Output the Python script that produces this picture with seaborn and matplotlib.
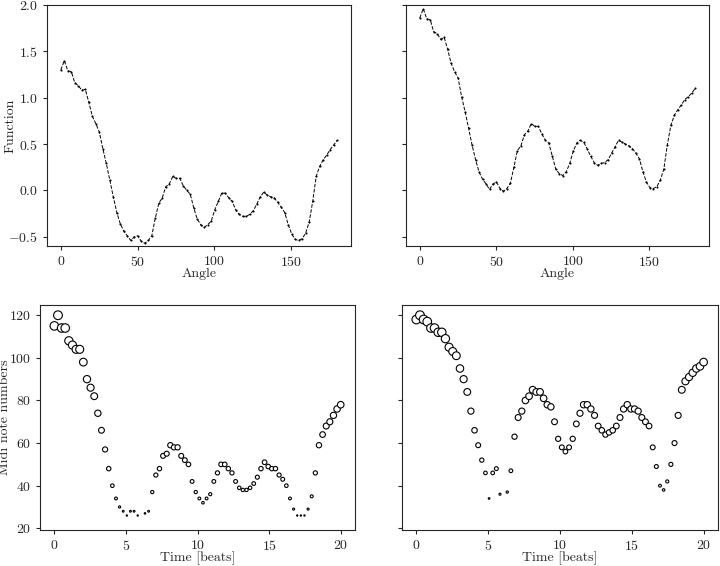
import numpy as np
import pandas as pd
import matplotlib
matplotlib.use("Agg")
import matplotlib.pyplot as plt
import seaborn as sns

# sample positions (80 samples)
angle = np.linspace(0, 180, 80)
time_beats = np.linspace(0, 20, 80)

# function values
func_left = [1.30, 1.40, 1.29, 1.28, 1.16, 1.13, 1.08, 1.09, 0.95, 0.80,
             0.72, 0.63, 0.45, 0.29, 0.11, -0.07, -0.24, -0.36, -0.44, -0.49,
             -0.54, -0.50, -0.49, -0.55, -0.57, -0.54, -0.49, -0.30, -0.14, -0.08,
             0.04, 0.07, 0.15, 0.13, 0.13, 0.05, 0.00, -0.04, -0.19, -0.31,
             -0.37, -0.40, -0.37, -0.33, -0.21, -0.12, -0.03, -0.03, -0.08, -0.12,
             -0.21, -0.26, -0.28, -0.28, -0.26, -0.22, -0.15, -0.07, -0.02, -0.05,
             -0.07, -0.08, -0.13, -0.18, -0.24, -0.37, -0.47, -0.53, -0.54, -0.52,
             -0.46, -0.34, -0.12, 0.15, 0.26, 0.33, 0.38, 0.44, 0.49, 0.54]

func_right = [1.86, 1.96, 1.85, 1.84, 1.71, 1.69, 1.63, 1.65, 1.52, 1.37,
              1.28, 1.21, 1.01, 0.85, 0.67, 0.49, 0.33, 0.20, 0.12, 0.07,
              0.01, 0.07, 0.09, 0.02, -0.01, 0.02, 0.08, 0.25, 0.43, 0.48,
              0.60, 0.64, 0.72, 0.69, 0.69, 0.61, 0.54, 0.51, 0.37, 0.23,
              0.18, 0.16, 0.20, 0.29, 0.42, 0.51, 0.54, 0.52, 0.45, 0.37,
              0.30, 0.27, 0.29, 0.30, 0.33, 0.40, 0.47, 0.54, 0.52, 0.50,
              0.48, 0.45, 0.40, 0.34, 0.20, 0.09, 0.03, 0.02, 0.04, 0.11,
              0.23, 0.49, 0.70, 0.81, 0.87, 0.92, 0.98, 1.01, 1.05, 1.10]

# midi note numbers
midi_left = [115, 120, 114, 114, 108, 106, 104, 104, 98, 90,
             86, 82, 74, 66, 57, 48, 40, 34, 30, 28,
             26, 28, 28, 26, 24, 27, 28, 37, 45, 48,
             54, 55, 59, 58, 58, 54, 52, 50, 42, 37,
             34, 32, 34, 36, 42, 46, 50, 50, 48, 46,
             42, 39, 38, 38, 39, 41, 44, 48, 51, 49,
             48, 48, 45, 43, 40, 34, 29, 26, 26, 26,
             29, 35, 46, 59, 64, 68, 70, 73, 76, 78]

midi_right = [118, 120, 118, 117, 114, 114, 112, 112, 109, 105,
              103, 101, 95, 90, 84, 75, 66, 59, 52, 46,
              34, 46, 48, 36, 31, 37, 47, 63, 72, 75,
              80, 82, 85, 84, 84, 81, 78, 77, 70, 62,
              58, 56, 58, 62, 69, 74, 78, 78, 76, 73,
              68, 66, 64, 65, 66, 68, 72, 76, 78, 76,
              76, 75, 72, 70, 68, 58, 49, 40, 38, 42,
              50, 60, 73, 85, 89, 91, 93, 95, 96, 98]

sns.set_style("ticks")
plt.rcParams["font.family"] = "serif"
plt.rcParams["font.serif"] = ["cmr10"]
plt.rcParams["mathtext.fontset"] = "cm"
plt.rcParams["axes.formatter.use_mathtext"] = True
plt.rcParams["font.size"] = 10

fig, axes = plt.subplots(2, 2, figsize=(7.2, 5.66), dpi=100)
(ax1, ax2), (ax3, ax4) = axes

for ax, f in [(ax1, func_left), (ax2, func_right)]:
    d = pd.DataFrame({"Angle": angle, "Function": f})
    sns.lineplot(data=d, x="Angle", y="Function", ax=ax, color="black",
                 linestyle="--", linewidth=0.7, marker=".", markersize=3,
                 markeredgewidth=0)
    ax.set_ylim(-0.6, 2.0)
    ax.set_xlabel("Angle", labelpad=-1)
ax2.set_ylabel("")
ax2.set_yticklabels([])
ax1.yaxis.set_label_coords(-0.1, 0.5)

for ax, m in [(ax3, midi_left), (ax4, midi_right)]:
    d = pd.DataFrame({"t": time_beats, "midi": m})
    sns.scatterplot(data=d, x="t", y="midi", size="midi", sizes=(0, 40),
                    ax=ax, facecolor="white", edgecolor="black",
                    linewidth=0.8, legend=False)
    ax.set_xlabel("Time [beats]", labelpad=-1)
ax3.set_ylabel("Midi note numbers")
ax3.yaxis.set_label_coords(-0.092, 0.5)
ax4.set_ylabel("")
ax4.sharey(ax3)
ax4.tick_params(labelleft=False)

for ax in axes.flat:
    for s in ax.spines.values():
        s.set_linewidth(0.8)
    ax.tick_params(length=3, width=0.8)

ax1.set_position([0.0653, 0.5654, 0.4222, 0.4258])
ax2.set_position([0.5639, 0.5654, 0.4208, 0.4258])
ax3.set_position([0.0556, 0.0636, 0.4375, 0.3975])
ax4.set_position([0.5583, 0.0636, 0.4389, 0.3975])

fig.savefig("out.png", dpi=100)
